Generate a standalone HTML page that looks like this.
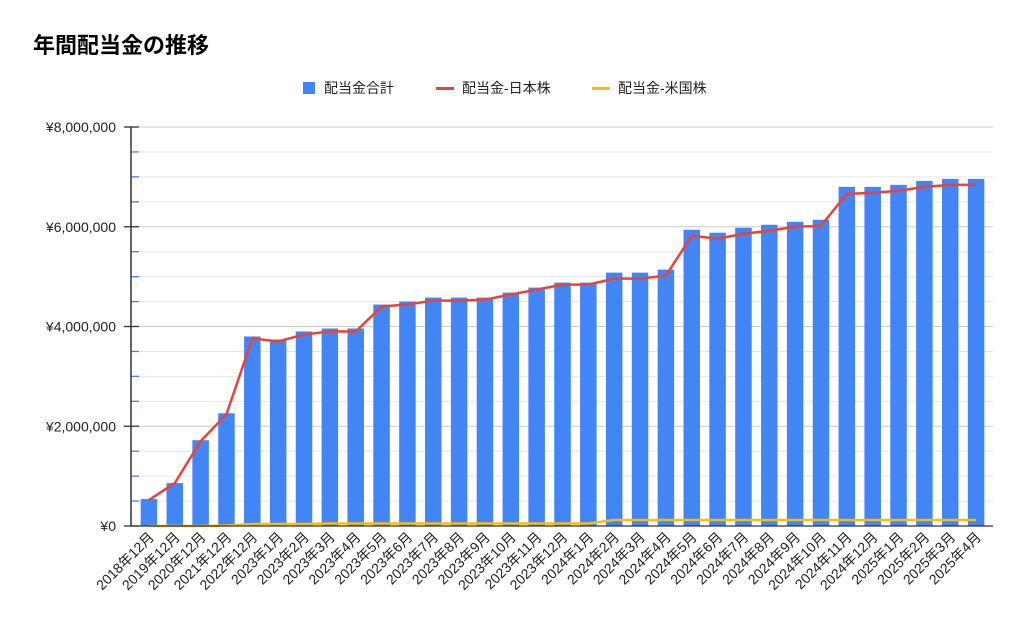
<!DOCTYPE html>
<html><head><meta charset="utf-8"><style>
body{margin:0;background:#fff;}
svg{display:block;font-family:"Liberation Sans","Noto Sans CJK JP",sans-serif;}
</style></head><body>
<svg id="chart" width="1024" height="635" viewBox="0 0 1024 635">
<rect width="1024" height="635" fill="#fff"/>
<text x="33" y="53" font-size="22" font-weight="bold" fill="#000">年間配当金の推移</text>
<g>
 <g><rect x="303" y="82" width="12" height="12" fill="#4285f4"/><text x="324" y="93" font-size="14" fill="#222">配当金合計</text></g>
 <g><rect x="436" y="87" width="18" height="3" fill="#ea4335"/><text x="462" y="93" font-size="14" fill="#222">配当金-日本株</text></g>
 <g><rect x="592" y="87" width="18" height="3" fill="#fbbc04"/><text x="618" y="93" font-size="14" fill="#222">配当金-米国株</text></g>
</g>
<g id="grid"></g><g id="bars"></g><g id="lines"></g><g id="axes"></g>
</svg>
<script>
const categories=["2018年12月","2019年12月","2020年12月","2021年12月","2022年12月","2023年1月","2023年2月","2023年3月","2023年4月","2023年5月","2023年6月","2023年7月","2023年8月","2023年9月","2023年10月","2023年11月","2023年12月","2024年1月","2024年2月","2024年3月","2024年4月","2024年5月","2024年6月","2024年7月","2024年8月","2024年9月","2024年10月","2024年11月","2024年12月","2025年1月","2025年2月","2025年3月","2025年4月"];
const totalValues=[540000,860000,1720000,2260000,3800000,3740000,3900000,3960000,3960000,4440000,4500000,4580000,4580000,4580000,4680000,4780000,4880000,4880000,5080000,5080000,5140000,5940000,5880000,5980000,6040000,6100000,6140000,6800000,6800000,6840000,6920000,6960000,6960000];
const japanValues=[520000,860000,1700000,2240000,3760000,3700000,3840000,3900000,3900000,4400000,4440000,4520000,4520000,4540000,4640000,4740000,4840000,4840000,4960000,4960000,5020000,5820000,5760000,5860000,5920000,6000000,6020000,6660000,6680000,6720000,6800000,6840000,6840000];
const usValues=[0,0,0,10000,40000,40000,40000,50000,50000,50000,50000,50000,50000,50000,50000,50000,50000,50000,120000,120000,120000,120000,120000,120000,120000,120000,120000,120000,120000,120000,120000,120000,120000];
const yTicks=[0,2000000,4000000,6000000,8000000];
const yTickLabels=["¥0","¥2,000,000","¥4,000,000","¥6,000,000","¥8,000,000"];
const NS="http://www.w3.org/2000/svg";
const X0=136,X1=989,Y0=526,Y1=127,YMAX=8000000;
const band=(X1-X0)/categories.length;
const xc=i=>X0+band*(i+0.5);
const y=v=>Y0-(v/YMAX)*(Y0-Y1);
function mk(t,a,p){const e=document.createElementNS(NS,t);for(const k in a)e.setAttribute(k,a[k]);p.appendChild(e);return e;}
const grid=document.getElementById('grid'),bars=document.getElementById('bars'),lines=document.getElementById('lines'),axes=document.getElementById('axes');
for(let v=0;v<=YMAX;v+=500000){
 const major=v%2000000===0;
 const g=mk('line',{x1:131,x2:X1+4,y1:y(v),y2:y(v),stroke:major?'#cccccc':'#e6e6e6','stroke-width':1},grid);
 
 
 const t=mk('line',{x1:major?124:131,x2:139,y1:y(v),y2:y(v),stroke:major?'#333':'#4285f4','stroke-width':1.3},axes);
 
 
}
yTicks.forEach((v,i)=>{
 const t=mk('text',{x:116,y:y(v)+5,'text-anchor':'end','font-size':14,fill:'#222'},axes);
 t.textContent=yTickLabels[i];
 
 
});
const ax=mk('line',{x1:131,x2:131,y1:Y1,y2:Y0,stroke:'#333','stroke-width':1.5},axes);


const bw=16.5;
totalValues.forEach((v,i)=>{
 const r=mk('rect',{x:xc(i)-bw/2,y:y(v),width:bw,height:Y0-y(v),fill:'#4285f4'},bars);
 
 
});
const bx=mk('line',{x1:131,x2:X1+4,y1:Y0,y2:Y0,stroke:'#333','stroke-width':1.3},axes);


function poly(vals,col,name){
 const p=mk('polyline',{points:vals.map((v,i)=>xc(i)+','+y(v)).join(' '),fill:'none',stroke:col,'stroke-width':2.5,'stroke-linejoin':'round'},lines);
 
 
}
poly(usValues,'#fbbc04','line-us');
poly(japanValues,'#ea4335','line-japan');
categories.forEach((c,i)=>{
 const t=mk('text',{x:xc(i)+6,y:538,'text-anchor':'end','font-size':14,fill:'#222',transform:'rotate(-45 '+(xc(i)+6)+' 538)'},axes);
 t.textContent=c;
 
 
});
</script>
</body></html>
